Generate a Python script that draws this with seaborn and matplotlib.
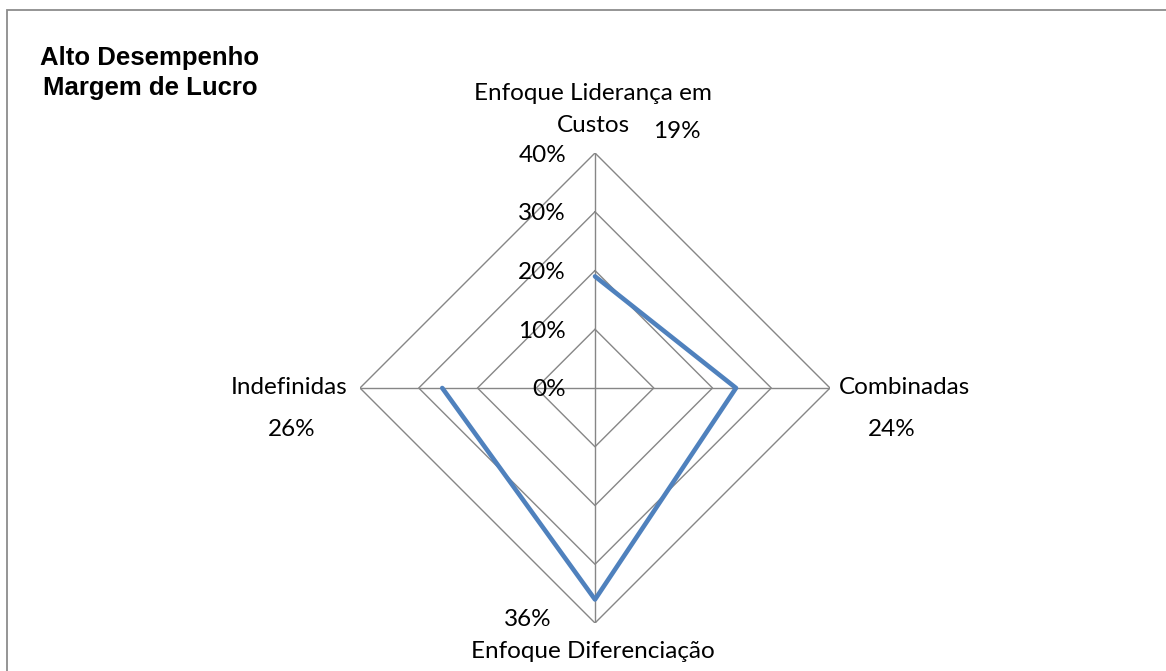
import numpy as np
import pandas as pd
import matplotlib
matplotlib.use("Agg")
import matplotlib.pyplot as plt
from matplotlib.patches import Rectangle
import seaborn as sns

# Radar data: strategy groups and their share
categories = ["Enfoque Liderança em\nCustos", "Combinadas", "Enfoque Diferenciação", "Indefinidas"]
values = [0.19, 0.24, 0.36, 0.26]
value_labels = ["19%", "24%", "36%", "26%"]
ring_levels = [0.0, 0.1, 0.2, 0.3, 0.4]
ring_labels = ["0%", "10%", "20%", "30%", "40%"]

sns.set_theme(style="white")
plt.rcParams["font.family"] = ["Lato", "DejaVu Sans"]

W, H = 1166, 671
fig = plt.figure(figsize=(W / 100, H / 100), dpi=100)
fig.patch.set_facecolor("white")

# Outer chart frame (only top/left edges fall inside the canvas)
fig.patches.append(Rectangle((7 / W, -0.1), 1.2, 1 - 10 / H + 0.1,
                             transform=fig.transFigure, fill=False,
                             edgecolor="#8c8c8c", linewidth=1.3))

cx, cy, R = 595, 388, 235
ax = fig.add_axes([(cx - R) / W, (H - cy - R) / H, 2 * R / W, 2 * R / H],
                  projection="polar")
ax.set_theta_offset(np.pi / 2)
ax.set_theta_direction(-1)
ax.set_ylim(0, 0.4)
ax.grid(False)
ax.spines["polar"].set_visible(False)
ax.set_xticks([])
ax.set_yticks([])
ax.patch.set_alpha(0)

n = len(categories)
angles = np.arange(n) * 2 * np.pi / n
closed_angles = np.append(angles, angles[0])

grid_color = "#868686"
for lvl in ring_levels[1:]:
    ax.plot(closed_angles, [lvl] * (n + 1), color=grid_color, lw=1.0, zorder=1)
for a in angles:
    ax.plot([a, a], [0, ring_levels[-1]], color=grid_color, lw=1.0, zorder=1)

df = pd.DataFrame({"theta": np.append(angles, angles[0]),
                   "r": values + [values[0]]})
sns.lineplot(data=df, x="theta", y="r", sort=False, ax=ax,
             color="#4F81BD", lw=3.3, zorder=3)
ax.set_xlabel("")
ax.set_ylabel("")

txt = dict(fontsize=17.5, color="black")

# Ring level labels along the top spoke
for lvl, lab in zip(ring_levels, ring_labels):
    ax.annotate(lab, xy=(0, lvl), xytext=(-29, -2), textcoords="offset pixels",
                ha="right", va="center", **txt)

def fig_xy(px, py):
    return px / W, 1 - py / H

# Category names and value labels
for i, line in enumerate(categories[0].split("\n")):
    fig.text(*fig_xy(593, 93 + 32 * i), line, ha="center", va="center", **txt)
fig.text(*fig_xy(677, 132), value_labels[0], ha="center", va="center", **txt)
fig.text(*fig_xy(839, 388), categories[1], ha="left", va="center", **txt)
fig.text(*fig_xy(892, 430), value_labels[1], ha="center", va="center", **txt)
fig.text(*fig_xy(593, 651), categories[2], ha="center", va="center", **txt)
fig.text(*fig_xy(528, 620), value_labels[2], ha="center", va="center", **txt)
fig.text(*fig_xy(347, 388), categories[3], ha="right", va="center", **txt)
fig.text(*fig_xy(292, 430), value_labels[3], ha="center", va="center", **txt)

# Title
fig.text(*fig_xy(150, 73), "Alto Desempenho\nMargem de Lucro", ha="center",
         va="center", fontsize=18.5, fontweight="bold", color="black",
         family=["Liberation Sans", "DejaVu Sans"], linespacing=1.3)

fig.savefig("out.png", dpi=100, facecolor="white")
